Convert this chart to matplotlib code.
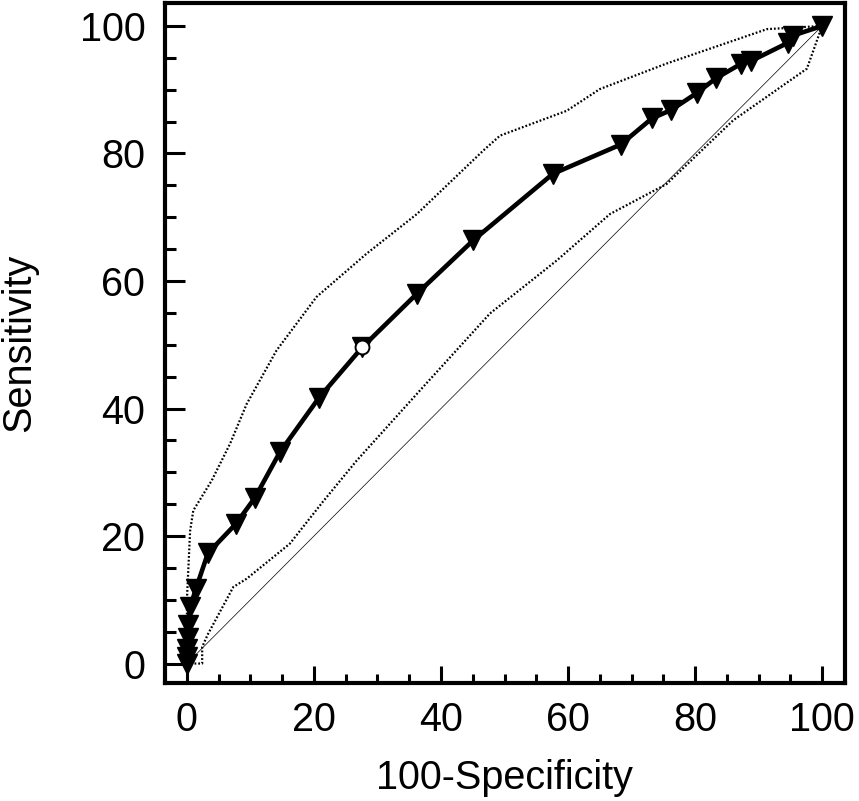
import matplotlib
matplotlib.use("Agg")
import matplotlib.pyplot as plt
from matplotlib.ticker import MultipleLocator

plt.rcParams['font.family'] = ['Liberation Sans', 'DejaVu Sans']

# ROC curve points (100-Specificity, Sensitivity)
roc_x = [0.0, 0.0, 0.0, 0.1, 0.2, 0.5, 1.4, 3.3, 7.7, 10.7, 14.6, 20.8, 27.6, 36.2, 45.1,
         57.6, 68.3, 73.2, 76.2, 80.3, 83.3, 87.3, 88.8, 94.7, 95.4, 100.0]
roc_y = [0.0, 1.0, 2.3, 4.0, 6.0, 8.8, 11.7, 17.3, 21.9, 26.0, 33.1, 41.7, 49.6, 58.0, 66.4,
         76.8, 81.4, 85.5, 86.8, 89.5, 91.8, 94.1, 94.5, 97.4, 98.5, 100.0]

# Criterion point (open circle)
crit_x = [27.6]
crit_y = [49.6]

# Upper confidence bound
upper_x = [0.0, 0.0, 0.5, 1.0, 3.9, 6.8, 9.4, 14.1, 20.4, 28.3, 36.2, 46.7, 49.3, 59.8,
           65.0, 75.5, 91.3, 100.0]
upper_y = [0.0, 10.1, 20.8, 24.0, 28.7, 34.5, 40.7, 49.1, 57.5, 64.3, 70.5, 80.5, 82.8, 86.7,
           90.1, 94.1, 99.5, 100.0]

# Lower confidence bound
lower_x = [0.0, 2.4, 2.4, 3.3, 7.3, 9.4, 16.2, 21.5, 26.7, 37.2, 47.7, 58.2, 66.6, 75.5,
           86.0, 97.6, 100.0]
lower_y = [0.0, 0.0, 2.6, 4.6, 12.0, 13.3, 18.8, 25.5, 31.8, 43.4, 54.9, 63.2, 70.5, 75.2,
           85.2, 93.3, 100.0]

# Reference diagonal
diag_x = [0, 100]
diag_y = [0, 100]

fig = plt.figure(figsize=(8.59, 8.01), dpi=100)
ax = fig.add_axes([164.7 / 859, (801 - 683.3) / 801, (845 - 164.7) / 859, (683.3 - 3) / 801])

ax.plot(diag_x, diag_y, color='black', lw=0.5, zorder=1)
ax.plot(upper_x, upper_y, color='black', lw=1.6, linestyle=(0, (0.8, 0.9)), zorder=2)
ax.plot(lower_x, lower_y, color='black', lw=1.6, linestyle=(0, (0.8, 0.9)), zorder=2)
ax.plot(roc_x, roc_y, color='black', lw=3.3, marker='v', markersize=15,
        markerfacecolor='black', markeredgecolor='black', zorder=3, clip_on=False)
ax.plot(crit_x, crit_y, linestyle='none', marker='o', markersize=10,
        markerfacecolor='white', markeredgecolor='black', markeredgewidth=1.4, zorder=4)

ax.set_xlim(-3.5, 103.6)
ax.set_ylim(-3.1, 103.6)

ax.xaxis.set_major_locator(MultipleLocator(20))
ax.xaxis.set_minor_locator(MultipleLocator(5))
ax.yaxis.set_major_locator(MultipleLocator(20))
ax.yaxis.set_minor_locator(MultipleLocator(5))

for s in ax.spines.values():
    s.set_linewidth(3)

ax.tick_params(axis='x', which='major', direction='in', length=12, width=2.2, labelsize=28.5, pad=13)
ax.tick_params(axis='x', which='minor', direction='in', length=6.5, width=2.2)
ax.tick_params(axis='y', which='major', direction='in', length=14.5, width=2.2, labelsize=28.5, pad=14)
ax.tick_params(axis='y', which='minor', direction='in', length=8, width=2.2)

ax.set_xlabel('100-Specificity', fontsize=28.5, labelpad=14)
ax.set_ylabel('Sensitivity', fontsize=28.5, labelpad=30)

fig.savefig('out.png', dpi=100)
